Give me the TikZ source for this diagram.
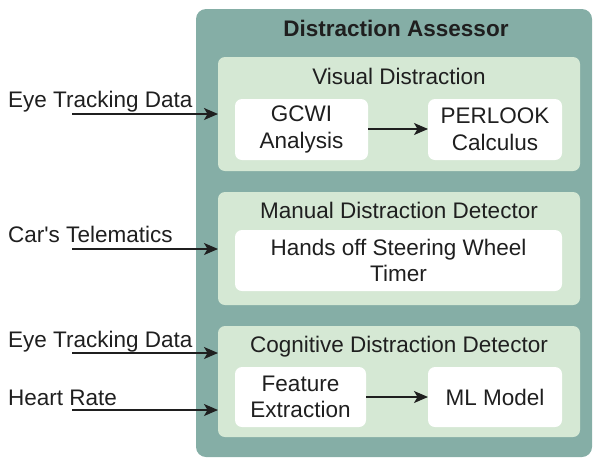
\documentclass[tikz,border=0pt]{standalone}
\usepackage{fontspec}
\setmainfont{Liberation Sans}
\usetikzlibrary{arrows.meta,calc}
\definecolor{teal}{HTML}{85AEA6}
\definecolor{lightgreen}{HTML}{D5E8D4}
\definecolor{ink}{HTML}{1F1F1F}
\begin{document}
\begin{tikzpicture}[x=1pt,y=-1pt,
  txt/.style={font=\fontsize{22.5}{26.5}\selectfont, text=ink, inner sep=0pt},
  outerbox/.style={fill=teal, draw=none, rounded corners=10pt},
  groupbox/.style={fill=lightgreen, draw=none, rounded corners=7pt},
  unitbox/.style={fill=white, draw=none, rounded corners=7pt, txt, align=center},
  arr/.style={draw=ink, line width=1.3pt, -{Stealth[length=14pt,width=12pt,inset=3.5pt]}}
]
\useasboundingbox (0,0) rectangle (593,458);

% container and groups
\draw[outerbox] (196,9) rectangle (592,457);
\node[txt, font=\fontsize{22.5}{26.5}\selectfont\bfseries, anchor=base] (title) at (396,36) {Distraction Assessor};

\path[groupbox] (218,57) rectangle (580,171);
\node[txt, anchor=base] (vistitle) at (399,84) {Visual Distraction};
\path[unitbox] (235,99) rectangle (368,160);
\node[txt, align=center] (gcwi) at (301.5,129.5) {GCWI\\Analysis};
\path[unitbox] (428,99) rectangle (562,160);
\node[txt, align=center] (perlook) at (495,129.5) {PERLOOK\\Calculus};

\path[groupbox] (218,192) rectangle (580,305);
\node[txt, anchor=base] (mantitle) at (399,218) {Manual Distraction Detector};
\path[unitbox] (235,230) rectangle (562,291);
\node[txt, align=center] (hands) at (398.5,260.5) {Hands off Steering Wheel\\Timer};

\path[groupbox] (218,326) rectangle (580,437);
\node[txt, anchor=base] (cogtitle) at (399,352) {Cognitive Distraction Detector};
\path[unitbox] (235,367) rectangle (366,427);
\node[txt, align=center] (feat) at (300.5,397) {Feature\\Extraction};
\path[unitbox] (428,367) rectangle (562,427);
\node[txt] (ml) at (495,397) {ML Model};

% internal flows
\coordinate (gcwiE) at (368,129);
\coordinate (perW) at (428,129);
\draw[arr] (gcwiE) -- (perW);
\coordinate (featE) at (366,397);
\coordinate (mlW) at (428,397);
\draw[arr] (featE) -- (mlW);

% inputs
\node[txt, anchor=base west] (in1) at (8,107.5) {Eye Tracking Data};
\node[txt, anchor=base west] (in2) at (8,242.5) {Car\textquotesingle s Telematics};
\node[txt, anchor=base west] (in3) at (8,347.5) {Eye Tracking Data};
\node[txt, anchor=base west] (in4) at (8,405) {Heart Rate};

\coordinate (s1) at (72,114);  \coordinate (e1) at (218,114);
\coordinate (s2) at (72,249);  \coordinate (e2) at (218,249);
\coordinate (s3) at (72,353);  \coordinate (e3) at (218,353);
\coordinate (s4) at (72,410);  \coordinate (e4) at (218,410);
\draw[arr] (s1) -- (e1);
\draw[arr] (s2) -- (e2);
\draw[arr] (s3) -- (e3);
\draw[arr] (s4) -- (e4);
\end{tikzpicture}
\end{document}
